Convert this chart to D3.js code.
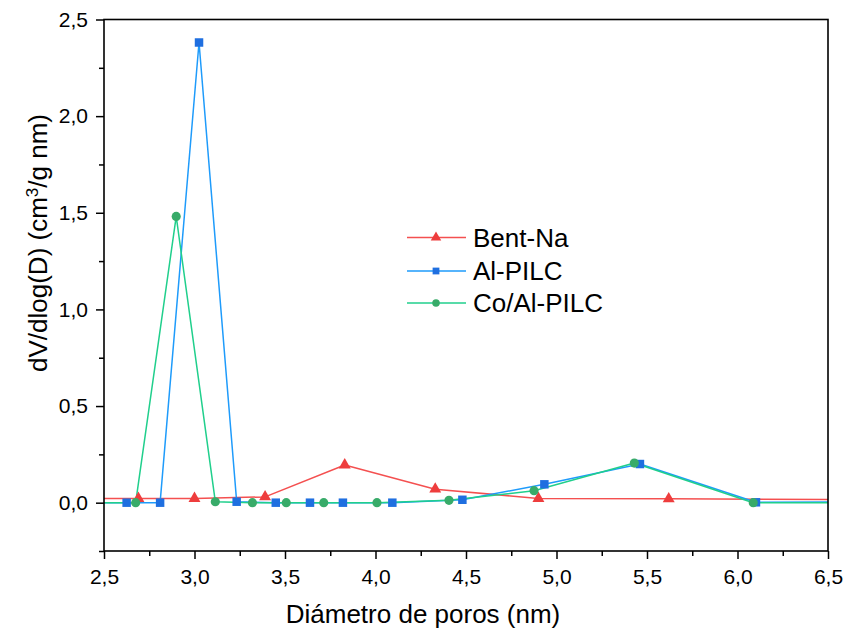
<!DOCTYPE html>
<html>
<head>
<meta charset="utf-8">
<script src="https://cdn.jsdelivr.net/npm/d3@7"></script>
<style>
  html, body { margin: 0; padding: 0; background: #fff; }
  svg { display: block; font-family: "Liberation Sans", Arial, sans-serif; }
</style>
</head>
<body>
<svg id="chart" width="846" height="630"></svg>
<script>
// ---------- data ----------
const seriesNames = ["Bent-Na", "Al-PILC", "Co/Al-PILC"];
// points outside the visible x-range (2.5–6.5) only carry the line to the frame edge
const bentX = [2.30, 2.69, 3.00, 3.39, 3.83, 4.33, 4.90, 5.62, 6.70];
const bentY = [0.020, 0.022, 0.022, 0.030, 0.195, 0.070, 0.022, 0.020, 0.016];
const alX = [2.30, 2.625, 2.81, 3.025, 3.233, 3.449, 3.638, 3.82, 4.093, 4.48, 4.933, 5.461, 6.102, 6.70];
const alY = [0.000, 0.000, 0.000, 2.381, 0.005, 0.000, 0.000, 0.000, 0.000, 0.015, 0.095, 0.200, 0.002, 0.004];
const coX = [2.30, 2.675, 2.899, 3.115, 3.32, 3.507, 3.714, 4.008, 4.406, 4.876, 5.43, 6.087, 6.70];
const coY = [0.000, 0.000, 1.481, 0.005, 0.000, 0.000, 0.000, 0.000, 0.012, 0.062, 0.205, 0.000, 0.000];
const xTickValues = [2.5, 3.0, 3.5, 4.0, 4.5, 5.0, 5.5, 6.0, 6.5];
const xMinorTicks = [2.75, 3.25, 3.75, 4.25, 4.75, 5.25, 5.75, 6.25];
const yTickValues = [0.0, 0.5, 1.0, 1.5, 2.0, 2.5];
const yMinorTicks = [-0.25, 0.25, 0.75, 1.25, 1.75, 2.25];
const xDomain = [2.5, 6.5];
const yDomain = [-0.25, 2.5];
const xTitle = "Diámetro de poros (nm)";

// ---------- layout ----------
const W = 846, H = 630;
const plot = { left: 104, top: 19.5, right: 828, bottom: 551 };
const svg = d3.select("#chart");

const x = d3.scaleLinear().domain(xDomain).range([plot.left, plot.right]);
const y = d3.scaleLinear().domain(yDomain).range([plot.bottom, plot.top]);
const fmt = v => d3.format(".1f")(v).replace(".", ",");

const series = [
  { name: seriesNames[0], xs: bentX, ys: bentY, line: "#f45050", mark: "#ee3d3d", shape: d3.symbolTriangle, size: 62, legSize: 48 },
  { name: seriesNames[1], xs: alX, ys: alY, line: "#1e9bfb", mark: "#1f6fe0", shape: d3.symbolSquare, size: 72, legSize: 46 },
  { name: seriesNames[2], xs: coX, ys: coY, line: "#20cf8c", mark: "#38ab69", shape: d3.symbolCircle, size: 66, legSize: 44 }
];

// clip
svg.append("defs").append("clipPath").attr("id", "clip")
  .append("rect")
  .attr("x", plot.left).attr("y", plot.top)
  .attr("width", plot.right - plot.left).attr("height", plot.bottom - plot.top);

const dataG = svg.append("g").attr("clip-path", "url(#clip)");
const lineGen = d3.line().x(d => x(d[0])).y(d => y(d[1]));

series.forEach(s => {
  const pts = s.xs.map((v, i) => [v, s.ys[i]]);
  dataG.append("path")
    .datum(pts)
    .attr("d", lineGen)
    .attr("fill", "none")
    .attr("stroke", s.line)
    .attr("stroke-width", 1.5)
    .attr("stroke-linejoin", "round");
});
series.forEach(s => {
  const pts = s.xs.map((v, i) => [v, s.ys[i]]);
  dataG.selectAll(null)
    .data(pts)
    .enter().append("path")
    .attr("d", d3.symbol().type(s.shape).size(s.size))
    .attr("transform", d => `translate(${x(d[0])},${y(d[1])})`)
    .attr("fill", s.mark);
});

// axes
const xAxis = d3.axisBottom(x).tickValues(xTickValues).tickFormat(fmt)
  .tickSize(8).tickPadding(10).tickSizeOuter(0);
const gx = svg.append("g").attr("transform", `translate(0,${plot.bottom})`).call(xAxis);
gx.selectAll(".tick line").attr("stroke", "#000").attr("stroke-width", 1.5);
gx.select(".domain").remove();
gx.selectAll("text").attr("font-size", 21).attr("fill", "#000")
  .attr("font-family", "'Liberation Sans', Arial, sans-serif");
const gxm = svg.append("g").attr("transform", `translate(0,${plot.bottom})`)
  .call(d3.axisBottom(x).tickValues(xMinorTicks).tickFormat("").tickSize(5).tickSizeOuter(0));
gxm.select(".domain").remove();
gxm.selectAll(".tick line").attr("stroke", "#000").attr("stroke-width", 1.5);

const yAxis = d3.axisLeft(y).tickValues(yTickValues).tickFormat(fmt)
  .tickSize(8).tickPadding(8).tickSizeOuter(0);
const gy = svg.append("g").attr("transform", `translate(${plot.left},0)`).call(yAxis);
gy.select(".domain").remove();
gy.selectAll(".tick line").attr("stroke", "#000").attr("stroke-width", 1.5);
gy.selectAll("text").attr("font-size", 21).attr("fill", "#000")
  .attr("font-family", "'Liberation Sans', Arial, sans-serif");
const gym = svg.append("g").attr("transform", `translate(${plot.left},0)`)
  .call(d3.axisLeft(y).tickValues(yMinorTicks).tickFormat("").tickSize(5).tickSizeOuter(0));
gym.select(".domain").remove();
gym.selectAll(".tick line").attr("stroke", "#000").attr("stroke-width", 1.5);

// frame
svg.append("rect")
  .attr("x", plot.left).attr("y", plot.top)
  .attr("width", plot.right - plot.left).attr("height", plot.bottom - plot.top)
  .attr("fill", "none").attr("stroke", "#000").attr("stroke-width", 1.6);

// axis titles
svg.append("text")
  .attr("x", 423).attr("y", 623)
  .attr("text-anchor", "middle").attr("font-size", 26).attr("fill", "#000")
  .text(xTitle);

const yt = svg.append("text")
  .attr("transform", "translate(47,243) rotate(-90)")
  .attr("text-anchor", "middle").attr("font-size", 26).attr("fill", "#000");
yt.append("tspan").text("dV/dlog(D) (cm");
yt.append("tspan").attr("dy", -9).attr("font-size", 17).text("3");
yt.append("tspan").attr("dy", 9).text("/g nm)");

// legend
const leg = svg.append("g");
const legY = [237.5, 271, 303];
series.forEach((s, i) => {
  const g = leg.append("g").attr("transform", `translate(0,${legY[i]})`);
  g.append("line").attr("x1", 407).attr("x2", 466).attr("y1", 0).attr("y2", 0)
    .attr("stroke", s.line).attr("stroke-width", 1.5);
  g.append("path").attr("d", d3.symbol().type(s.shape).size(s.legSize))
    .attr("transform", "translate(436,0)").attr("fill", s.mark);
  g.append("text").attr("x", 473).attr("y", 0).attr("dy", "0.36em")
    .attr("font-size", 26).attr("fill", "#000").text(s.name);
});
</script>
</body>
</html>
